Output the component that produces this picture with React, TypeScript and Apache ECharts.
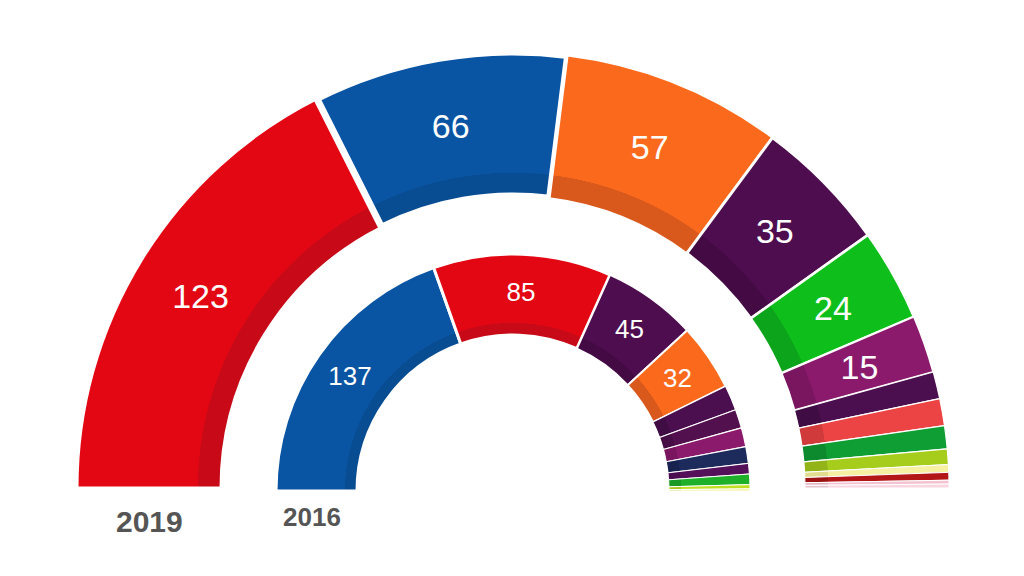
import React, { useEffect, useRef } from "react";
import * as echarts from "echarts";

const parties2019 = ["PSOE", "PP", "Cs", "UP", "Vox", "ERC", "ECP", "JxCat", "PNV", "EH Bildu", "CC", "NA+", "Compromís", "PRC"];
const seats2019 = [123, 66, 57, 35, 24, 15, 7, 7, 6, 4, 2, 2, 1, 1];
const colors2019 = ["#e30613", "#0a55a3", "#fb6a1c", "#4e0d4e", "#0ebf1c", "#8b1a6c", "#4b0f4f", "#ec4444", "#0f9e34", "#a6cc1c", "#f6f0a2", "#b31616", "#f3c3d2", "#f7d6e0"];
const dark2019 = ["#c80a18", "#084c92", "#d9581c", "#440a44", "#0ca41a", "#7a155f", "#400c44", "#d03a3a", "#0c8a2d", "#92b418", "#e2dc90", "#9c1212", "#dfb0c0", "#e3c4ce"];
const borders2019 = [3, 7, 2, 3, 2.5, 2, 1.2, 1.2, 1.2, 1.2, 1, 1, 1, 1];
const labelled2019 = [true, true, true, true, true, true, false, false, false, false, false, false, false, false];

const parties2016 = ["PP", "PSOE", "UP", "Cs", "ECP", "Compromís", "ERC", "CDC", "En Marea", "PNV", "EH Bildu", "CC"];
const seats2016 = [137, 85, 45, 32, 12, 9, 9, 8, 5, 5, 2, 1];
const colors2016 = ["#0a55a3", "#e30613", "#4e0d4e", "#fb6a1c", "#4b0f4f", "#52104f", "#8b1a6c", "#1c2a5c", "#55105a", "#1fb02a", "#bfe020", "#f2f08a"];
const dark2016 = ["#084c92", "#c80a18", "#440a44", "#d9581c", "#400c44", "#470d45", "#7a155f", "#17234e", "#4a0d4f", "#1a9a24", "#a8c61c", "#dedc7c"];
const borders2016 = [3, 3, 2, 2, 1.2, 1.2, 1.2, 1.2, 1, 1, 1, 1];
const labelled2016 = [true, true, true, true, false, false, false, false, false, false, false, false];

const labels = ["2019", "2016"];

function buildData(
  names: string[],
  values: number[],
  cols: string[],
  darks: string[],
  borders: number[],
  labelled: boolean[],
  cx: number,
  cy: number,
  rOut: number,
  rBand: number
) {
  const split = rBand / rOut;
  return names.map((n, i) => ({
    name: n,
    value: values[i],
    itemStyle: {
      color: {
        type: "radial",
        x: cx,
        y: cy,
        r: rOut,
        global: true,
        colorStops: [
          { offset: 0, color: darks[i] },
          { offset: split, color: darks[i] },
          { offset: split + 0.001, color: cols[i] },
          { offset: 1, color: cols[i] },
        ],
      },
      borderColor: "#ffffff",
      borderWidth: borders[i],
    },
    label: { show: labelled[i] },
  }));
}

export default function App() {
  const ref = useRef<HTMLDivElement>(null);
  useEffect(() => {
    if (!ref.current) return;
    const chart = echarts.init(ref.current, null, { renderer: "svg" });
    const base = {
      type: "pie",
      startAngle: 180,
      endAngle: 0,
      clockwise: true,
      avoidLabelOverlap: false,
      labelLine: { show: false },
      emphasis: { disabled: true },
      silent: true,
    };
    chart.setOption({
      animation: false,
      backgroundColor: "#ffffff",
      series: [
        {
          ...base,
          name: "2019",
          center: [513, 488],
          radius: [292, 436],
          label: {
            position: "inside",
            formatter: "{c}",
            color: "#ffffff",
            fontSize: 34,
            fontFamily: "Liberation Sans, Arial, sans-serif",
          },
          data: buildData(parties2019, seats2019, colors2019, dark2019, borders2019, labelled2019, 513, 488, 436, 315),
        },
        {
          ...base,
          name: "2016",
          center: [513, 491],
          radius: [156, 237],
          label: {
            position: "inside",
            formatter: "{c}",
            color: "#ffffff",
            fontSize: 26,
            fontFamily: "Liberation Sans, Arial, sans-serif",
          },
          data: buildData(parties2016, seats2016, colors2016, dark2016, borders2016, labelled2016, 513, 491, 237, 168),
        },
      ],
      graphic: [
        {
          type: "text",
          left: 116,
          top: 506,
          style: { text: labels[0], fill: "#555555", font: "bold 30px 'Liberation Sans', Arial, sans-serif" },
        },
        {
          type: "text",
          left: 283,
          top: 504,
          style: { text: labels[1], fill: "#555555", font: "bold 26px 'Liberation Sans', Arial, sans-serif" },
        },
      ],
    });
    return () => chart.dispose();
  }, []);
  return <div ref={ref} style={{ position: "fixed", left: 0, top: 0, width: 1024, height: 576 }} />;
}
